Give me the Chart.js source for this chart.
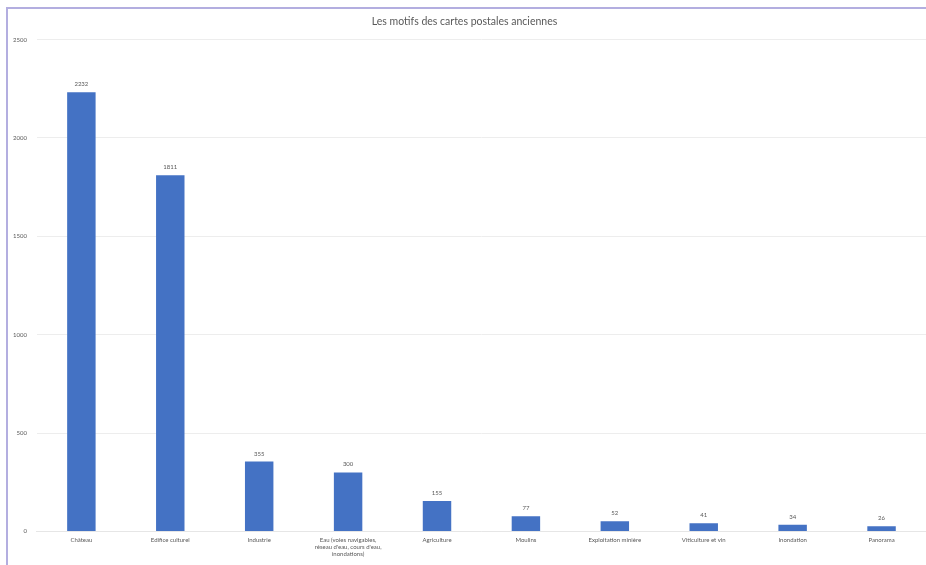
<!DOCTYPE html>
<html>
<head>
<meta charset="utf-8">
<script src="https://cdn.jsdelivr.net/npm/chart.js@4.4.1/dist/chart.umd.min.js"></script>
<style>
  html, body { margin: 0; padding: 0; background: #fff; }
  #frame {
    position: absolute; left: 6px; top: 7px; width: 920px; height: 558px;
    border-left: 2px solid #b3aee0; border-top: 2px solid #b3aee0;
    box-sizing: border-box;
  }
  #wrap { position: absolute; left: 0; top: 0; width: 926px; height: 565px; }
</style>
</head>
<body>
<div id="frame"></div>
<div id="wrap"><canvas id="chart" width="926" height="565"></canvas></div>
<script>
// postcard motifs, counted per category
var categories = [
  'Château',
  'Edifice culturel',
  'Industrie',
  ['Eau (voies navigables,', "réseau d'eau, cours d'eau,", 'inondations)'],
  'Agriculture',
  'Moulins',
  'Exploitation minière',
  'Viticulture et vin',
  'Inondation',
  'Panorama'
];
var counts = [2232, 1811, 355, 300, 155, 77, 52, 41, 34, 26];
var yTicks = [0, 500, 1000, 1500, 2000, 2500];

var textColour = '#595959';
var fontFamily = 'Lato, "Open Sans", sans-serif';

// writes the count just above each bar
var valueLabels = {
  id: 'valueLabels',
  afterDatasetsDraw: function (chart) {
    var ctx = chart.ctx;
    var meta = chart.getDatasetMeta(0);
    ctx.save();
    ctx.font = '6px ' + fontFamily;
    ctx.fillStyle = textColour;
    ctx.textAlign = 'center';
    ctx.textBaseline = 'bottom';
    meta.data.forEach(function (bar, i) {
      ctx.fillText(String(counts[i]), bar.x, bar.y - 5);
    });
    ctx.restore();
  }
};

new Chart(document.getElementById('chart'), {
  type: 'bar',
  data: {
    labels: categories,
    datasets: [{
      data: counts,
      backgroundColor: '#4472c4',
      borderWidth: 0,
      categoryPercentage: 0.32,
      barPercentage: 1
    }]
  },
  options: {
    responsive: false,
    animation: false,
    layout: { padding: { left: 3, right: 0, top: 0, bottom: 2 } },
    plugins: {
      legend: { display: false },
      tooltip: { enabled: false },
      title: {
        display: true,
        text: 'Les motifs des cartes postales anciennes',
        color: textColour,
        font: { family: fontFamily, size: 10.5, weight: 'normal' },
        padding: { top: 15, bottom: 12 }
      }
    },
    scales: {
      x: {
        grid: { display: false, drawTicks: false },
        border: { display: true, color: '#e6e6e6' },
        ticks: {
          color: textColour,
          font: { family: fontFamily, size: 6 },
          padding: 5,
          maxRotation: 0,
          autoSkip: false
        }
      },
      y: {
        min: 0,
        max: 2500,
        afterBuildTicks: function (axis) {
          axis.ticks = yTicks.map(function (v) { return { value: v }; });
        },
        grid: { color: '#ededed', drawTicks: false },
        border: { display: false },
        ticks: {
          color: textColour,
          font: { family: fontFamily, size: 6 },
          padding: 10,
          callback: function (v) { return String(v); }
        }
      }
    }
  },
  plugins: [valueLabels]
});
</script>
</body>
</html>
